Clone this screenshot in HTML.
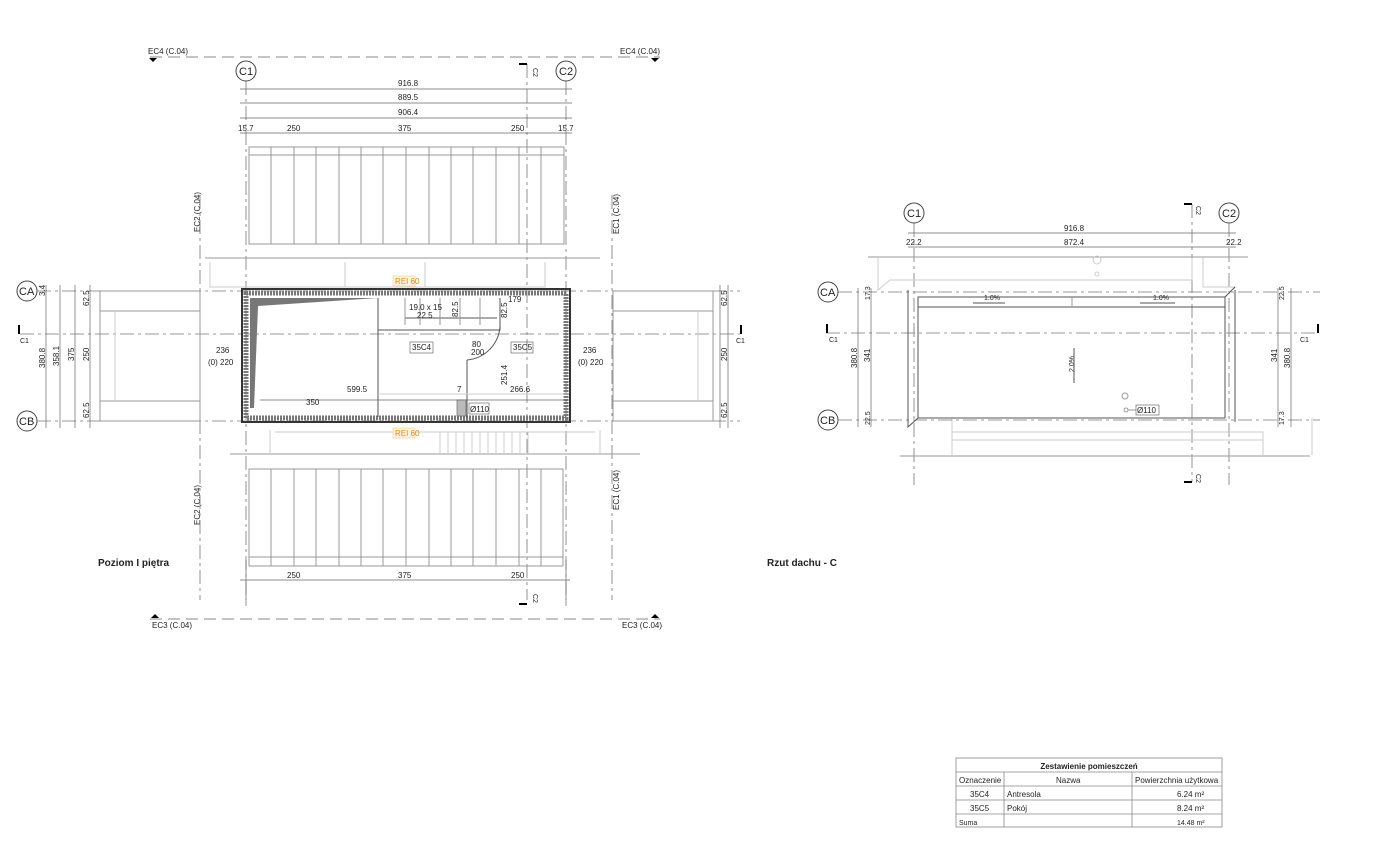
<!DOCTYPE html>
<html><head><meta charset="utf-8"><style>
html,body{margin:0;padding:0;background:#fff;width:1400px;height:844px;overflow:hidden}
svg{display:block;font-family:"Liberation Sans",sans-serif}
text{fill:#222;font-size:8px}
.g{stroke:#999;fill:none;stroke-width:1}
.d{stroke:#777;fill:none;stroke-width:.8;stroke-dasharray:14 4 3 4}
.k{stroke:#555;fill:none;stroke-width:1}
.l{stroke:#ccc;fill:none;stroke-width:1}
.dm{stroke:#666;fill:none;stroke-width:.7}
</style></head><body>
<svg id="s" width="1400" height="844" viewBox="0 0 1400 844">
<!-- section lines EC4/EC3 -->
<line x1="150" y1="57" x2="660" y2="57" stroke="#888" stroke-dasharray="12 6"/>
<line x1="150" y1="619" x2="660" y2="619" stroke="#888" stroke-dasharray="12 6"/>
<text x="148" y="54">EC4 (C.04)</text><text x="620" y="54">EC4 (C.04)</text>
<polygon points="149,58 157,58 153,62" fill="#000"/><polygon points="651,58 659,58 655,62" fill="#000"/>
<text x="152" y="628">EC3 (C.04)</text><text x="622" y="628">EC3 (C.04)</text>
<polygon points="151,618 159,618 155,614" fill="#000"/><polygon points="651,618 659,618 655,614" fill="#000"/>
<!-- grid C1 C2 left -->
<circle cx="246" cy="71" r="10" fill="#fff" stroke="#444"/><text x="239" y="75" style="font-size:11px">C1</text>
<circle cx="566" cy="71" r="10" fill="#fff" stroke="#444"/><text x="559" y="75" style="font-size:11px">C2</text>
<line x1="246" y1="81" x2="246" y2="600" class="d"/>
<line x1="566" y1="81" x2="566" y2="600" class="d"/>
<line x1="527" y1="64" x2="527" y2="600" class="d"/>
<path d="M519,64H527" stroke="#000" stroke-width="2"/><text x="531" y="70" transform="rotate(90 533 70)" style="font-size:7px">C2</text>
<path d="M519,604H527" stroke="#000" stroke-width="2"/><text x="531" y="596" transform="rotate(90 533 596)" style="font-size:7px">C2</text>
<!-- dims top -->
<g class="dm"><line x1="240" y1="89" x2="572" y2="89"/><line x1="240" y1="103" x2="572" y2="103"/><line x1="240" y1="118" x2="572" y2="118"/><line x1="240" y1="133" x2="572" y2="133"/>
<line x1="240" y1="580" x2="570" y2="580"/><line x1="246" y1="560" x2="246" y2="606"/><line x1="566" y1="560" x2="566" y2="606"/></g>
<text x="398" y="86">916.8</text><text x="398" y="100">889.5</text><text x="398" y="115">906.4</text>
<text x="238" y="131">15.7</text><text x="287" y="131">250</text><text x="398" y="131">375</text><text x="511" y="131">250</text><text x="558" y="131">15.7</text>
<text x="287" y="578">250</text><text x="398" y="578">375</text><text x="511" y="578">250</text>
<!-- panels -->
<rect x="249" y="147" width="315" height="97" class="g"/><line x1="249" y1="155" x2="564" y2="155" class="g"/>
<rect x="249" y="469" width="314" height="97" class="g"/><line x1="249" y1="557" x2="563" y2="557" class="g"/>
<g id="pl" class="g"></g>
<!-- EC1 EC2 -->
<text x="0" y="0" transform="translate(200,232) rotate(-90)">EC2 (C.04)</text>
<text x="0" y="0" transform="translate(200,525) rotate(-90)">EC2 (C.04)</text>
<text x="0" y="0" transform="translate(619,234) rotate(-90)">EC1 (C.04)</text>
<text x="0" y="0" transform="translate(619,510) rotate(-90)">EC1 (C.04)</text>
<line x1="200" y1="195" x2="200" y2="600" class="d"/><line x1="612" y1="195" x2="612" y2="600" class="d"/>
<!-- horizontal grid -->
<circle cx="27" cy="291" r="10" fill="#fff" stroke="#444"/><text x="19" y="295" style="font-size:11px">CA</text>
<circle cx="27" cy="421" r="10" fill="#fff" stroke="#444"/><text x="19" y="425" style="font-size:11px">CB</text>
<line x1="37" y1="291" x2="740" y2="291" class="d"/><line x1="37" y1="421" x2="740" y2="421" class="d"/>
<line x1="20" y1="334" x2="740" y2="334" class="d"/>
<path d="M19,325V334M741,325V334" stroke="#000" stroke-width="2"/>
<text x="20" y="343" style="font-size:7px">C1</text><text x="736" y="343" style="font-size:7px">C1</text>
<g class="dm"><line x1="46" y1="285" x2="46" y2="428"/><line x1="60" y1="285" x2="60" y2="428"/><line x1="75" y1="285" x2="75" y2="428"/><line x1="90" y1="285" x2="90" y2="428"/>
<line x1="720" y1="285" x2="720" y2="428"/><line x1="728" y1="285" x2="728" y2="428"/></g>
<g style="font-size:8px">
<text transform="translate(45,368) rotate(-90)">380.8</text><text transform="translate(59,366) rotate(-90)">358.1</text><text transform="translate(74,361) rotate(-90)">375</text><text transform="translate(89,361) rotate(-90)">250</text>
<text transform="translate(89,306) rotate(-90)">62.5</text><text transform="translate(89,418) rotate(-90)">62.5</text><text transform="translate(45,296) rotate(-90)">3.4</text>
<text transform="translate(727,306) rotate(-90)">62.5</text><text transform="translate(727,361) rotate(-90)">250</text><text transform="translate(727,418) rotate(-90)">62.5</text>
</g>
<!-- side boxes -->
<rect x="100" y="291" width="100" height="130" class="g"/><line x1="100" y1="311" x2="200" y2="311" class="g"/><line x1="100" y1="401" x2="200" y2="401" class="g"/><line x1="115" y1="311" x2="115" y2="401" class="l"/>
<rect x="613" y="291" width="100" height="130" class="g"/><line x1="613" y1="311" x2="713" y2="311" class="g"/><line x1="613" y1="401" x2="713" y2="401" class="g"/><line x1="698" y1="311" x2="698" y2="401" class="l"/>
<!-- upper/lower outbuilding -->
<line x1="205" y1="258" x2="600" y2="258" class="g"/><path d="M210,262V287H545V262" class="l"/><path d="M345,262V287M425,262V287" class="l"/>
<line x1="230" y1="454" x2="640" y2="454" class="g"/><path d="M270,430V454M600,430V454M275,432H595" class="l"/>
<g class="l" id="st"></g>
<!-- main building -->
<rect x="242" y="289" width="328" height="133" fill="none" stroke="#333" stroke-width="2"/>
<rect x="246" y="293" width="320" height="125" fill="none" stroke="#777" stroke-width="5" stroke-dasharray="2 1"/>
<polygon points="250,298 378,298 258,306 254,408 250,408" fill="#777"/>
<line x1="378" y1="298" x2="378" y2="417" class="k"/>
<path d="M378,330H500V298M405,318H497M500,318H500" class="k"/><line x1="405" y1="298" x2="405" y2="325" class="g"/>
<g class="g"><line x1="420" y1="298" x2="420" y2="325"/><line x1="440" y1="298" x2="440" y2="325"/><line x1="460" y1="298" x2="460" y2="325"/><line x1="480" y1="298" x2="480" y2="325"/></g>
<path d="M467,360V418M467,360 A36,36 0 0 0 500,326" class="k"/>
<line x1="378" y1="394" x2="568" y2="394" class="l"/>
<line x1="260" y1="400" x2="568" y2="400" class="dm"/>
<text x="409" y="310" style="font-size:8px">19.0 x 15</text><text x="417" y="318">22.5</text>
<text x="508" y="302">179</text><text x="412" y="350" style="font-size:8px">35C4</text><rect x="410" y="342" width="23" height="11" fill="none" stroke="#555" stroke-width=".6"/>
<text x="513" y="350">35C5</text><rect x="511" y="342" width="22" height="11" fill="none" stroke="#555" stroke-width=".6"/>
<text x="472" y="347">80</text><text x="471" y="355">200</text>
<text x="347" y="392">599.5</text><text x="306" y="405">350</text><text x="510" y="392">266.6</text><text x="457" y="392">7</text>
<text transform="translate(507,385) rotate(-90)">251.4</text><text transform="translate(458,317) rotate(-90)">82.5</text><text transform="translate(507,318) rotate(-90)">82.5</text>
<rect x="469" y="403" width="20" height="11" fill="#fff" stroke="#555" stroke-width=".6"/><text x="470" y="412">Ø110</text>
<rect x="457" y="400" width="9" height="16" fill="#bbb" stroke="#555" stroke-width=".6"/>
<text x="216" y="353">236</text><text x="208" y="365">(0) 220</text>
<text x="583" y="353">236</text><text x="578" y="365">(0) 220</text>
<rect x="393" y="276" width="22" height="10" fill="#fff3dd" stroke="#f0c080" stroke-width=".5"/><text x="395" y="284" style="fill:#e08a20">REI 60</text>
<rect x="393" y="428" width="22" height="10" fill="#fff3dd" stroke="#f0c080" stroke-width=".5"/><text x="395" y="436" style="fill:#e08a20">REI 60</text>
<text x="98" y="566" style="font-size:10px;font-weight:bold">Poziom I piętra</text>
<text x="767" y="566" style="font-size:10px;font-weight:bold">Rzut dachu - C</text>

<!-- RIGHT plan -->
<circle cx="914" cy="213" r="10" fill="#fff" stroke="#444"/><text x="907" y="217" style="font-size:11px">C1</text>
<circle cx="1229" cy="213" r="10" fill="#fff" stroke="#444"/><text x="1222" y="217" style="font-size:11px">C2</text>
<line x1="914" y1="223" x2="914" y2="485" class="d"/><line x1="1229" y1="223" x2="1229" y2="485" class="d"/>
<line x1="1192" y1="204" x2="1192" y2="482" class="d"/>
<path d="M1184,204H1192M1184,482H1192" stroke="#000" stroke-width="2"/>
<text transform="translate(1196,206) rotate(90)" style="font-size:7px">C2</text><text transform="translate(1196,474) rotate(90)" style="font-size:7px">C2</text>
<g class="dm"><line x1="908" y1="233" x2="1236" y2="233"/><line x1="908" y1="247" x2="1236" y2="247"/></g>
<text x="1064" y="231">916.8</text><text x="1064" y="245">872.4</text><text x="906" y="245">22.2</text><text x="1226" y="245">22.2</text>
<line x1="868" y1="257" x2="1248" y2="257" class="g"/><line x1="900" y1="456" x2="1310" y2="456" class="g"/>
<path d="M878,258V290L890,280H1192V258M1203,258V287M1203,287H1236" class="l"/>
<path d="M952,418V455M1312,418V455M952,432H1263V455M952,440H1263" class="l"/>
<circle cx="1097" cy="260" r="4" class="l"/><circle cx="1097" cy="274" r="2" class="l"/>
<circle cx="828" cy="292" r="10" fill="#fff" stroke="#444"/><text x="820" y="296" style="font-size:11px">CA</text>
<circle cx="828" cy="420" r="10" fill="#fff" stroke="#444"/><text x="820" y="424" style="font-size:11px">CB</text>
<line x1="838" y1="292" x2="1320" y2="292" class="d"/><line x1="838" y1="420" x2="1320" y2="420" class="d"/>
<line x1="826" y1="333" x2="1318" y2="333" class="d"/>
<path d="M827,324V333M1318,324V333" stroke="#000" stroke-width="2"/>
<text x="829" y="342" style="font-size:7px">C1</text><text x="1300" y="342" style="font-size:7px">C1</text>
<g class="dm"><line x1="858" y1="288" x2="858" y2="427"/><line x1="871" y1="288" x2="871" y2="427"/><line x1="1278" y1="288" x2="1278" y2="427"/><line x1="1291" y1="288" x2="1291" y2="427"/></g>
<text transform="translate(857,368) rotate(-90)">380.8</text><text transform="translate(870,362) rotate(-90)">341</text>
<text transform="translate(1277,362) rotate(-90)">341</text><text transform="translate(1290,368) rotate(-90)">380.8</text>
<text transform="translate(870,300) rotate(-90)" style="font-size:7px">17.3</text><text transform="translate(870,425) rotate(-90)" style="font-size:7px">22.5</text>
<text transform="translate(1284,300) rotate(-90)" style="font-size:7px">22.5</text><text transform="translate(1284,425) rotate(-90)" style="font-size:7px">17.3</text>
<path d="M908,290V427L918,418M1235,290V422M1225,297L1235,287" class="k"/>
<rect x="918" y="297" width="307" height="121" class="k"/><line x1="918" y1="307" x2="1225" y2="307" class="k"/>
<line x1="1072" y1="297" x2="1072" y2="307" class="g"/>
<text x="984" y="300" style="font-size:7px">1.0%</text><text x="1153" y="300" style="font-size:7px">1.0%</text>
<path d="M973,303H1005M1140,303H1175" class="k" stroke-width=".6"/>
<text transform="translate(1074,372) rotate(-90)" style="font-size:7px">2.0%</text><line x1="1074" y1="348" x2="1074" y2="383" class="k" stroke-width=".6"/>
<circle cx="1125" cy="396" r="3" class="g"/><circle cx="1126" cy="410" r="2" class="g"/><line x1="1128" y1="410" x2="1136" y2="410" class="g"/>
<rect x="1136" y="405" width="23" height="10" fill="none" stroke="#555" stroke-width=".6"/><text x="1137" y="413">Ø110</text>
<!-- table -->
<g transform="translate(956,758)">
<rect x="0" y="0" width="266" height="69" fill="none" stroke="#888" stroke-width=".8"/>
<g stroke="#888" stroke-width=".8"><line x1="0" y1="14" x2="266" y2="14"/><line x1="0" y1="28" x2="266" y2="28"/><line x1="0" y1="42" x2="266" y2="42"/><line x1="0" y1="56" x2="266" y2="56"/>
<line x1="48" y1="14" x2="48" y2="69"/><line x1="176" y1="14" x2="176" y2="69"/></g>
<text x="133" y="11" text-anchor="middle" style="font-weight:bold">Zestawienie pomieszczeń</text>
<text x="3" y="25">Oznaczenie</text><text x="100" y="25">Nazwa</text><text x="179" y="25">Powierzchnia użytkowa</text>
<text x="14" y="39">35C4</text><text x="51" y="39">Antresola</text><text x="221" y="39">6.24 m²</text>
<text x="14" y="53">35C5</text><text x="51" y="53">Pokój</text><text x="221" y="53">8.24 m²</text>
<text x="3" y="67" style="font-size:7px">Suma</text><text x="221" y="67" style="font-size:7px">14.48 m²</text>
</g>
</svg>
<script>
var ns="http://www.w3.org/2000/svg",pl=document.getElementById("pl"),st=document.getElementById("st");
[271,294,316,339,361,383,406,429,451,473,496,519,541].forEach(function(x){
[[147,244],[469,566]].forEach(function(r){var l=document.createElementNS(ns,"line");l.setAttribute("x1",x);l.setAttribute("x2",x);l.setAttribute("y1",r[0]);l.setAttribute("y2",r[1]);pl.appendChild(l);});});
for(var x=440;x<530;x+=8){var l=document.createElementNS(ns,"line");l.setAttribute("x1",x);l.setAttribute("x2",x);l.setAttribute("y1",432);l.setAttribute("y2",454);st.appendChild(l);}
</script>
</body></html>
